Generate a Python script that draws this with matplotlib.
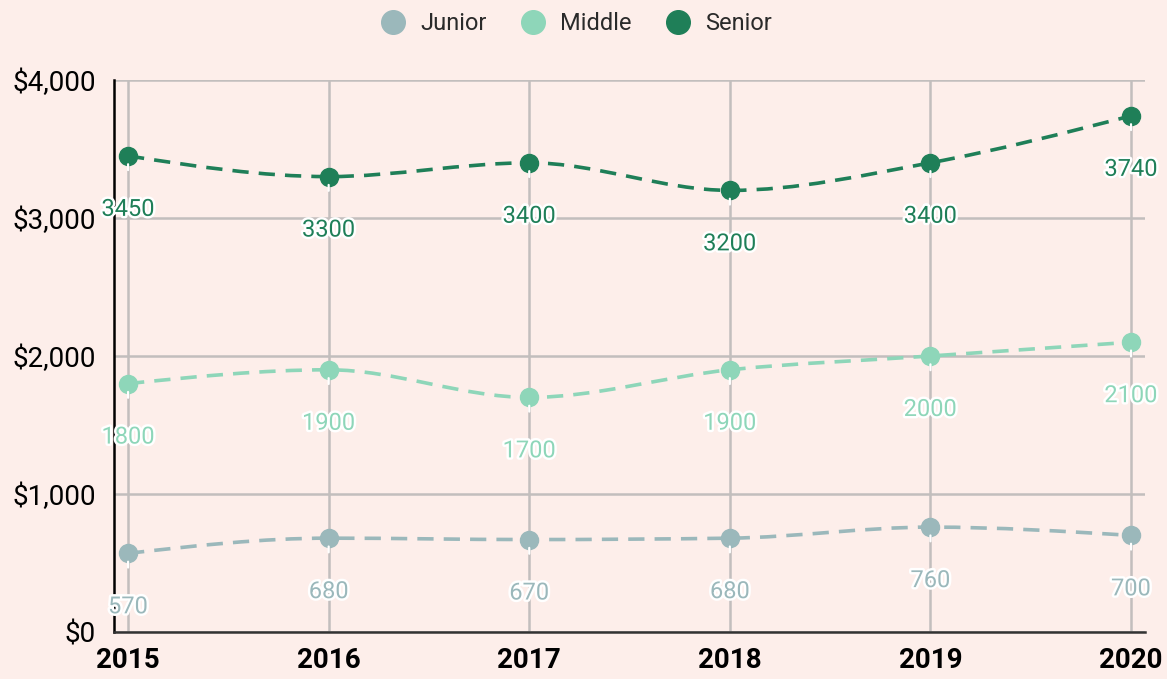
import numpy as np
import matplotlib.pyplot as plt
import matplotlib.patheffects as pe
from matplotlib.path import Path
from matplotlib.patches import PathPatch
from matplotlib.lines import Line2D

plt.rcParams['font.family'] = ['Roboto', 'DejaVu Sans']

years = [2015, 2016, 2017, 2018, 2019, 2020]
junior = [570, 680, 670, 680, 760, 700]
middle = [1800, 1900, 1700, 1900, 2000, 2100]
senior = [3450, 3300, 3400, 3200, 3400, 3740]

names = ['Junior', 'Middle', 'Senior']
colors = ['#9bb8bb', '#8ed6b9', '#1f7f58']
bg = '#fdeeea'


def smooth_path(x, y):
    # monotone cubic (like d3 curveMonotoneX) as bezier segments
    x = np.asarray(x, float)
    y = np.asarray(y, float)
    h = np.diff(x)
    s = np.diff(y) / h
    t = np.zeros(len(x))
    for i in range(1, len(x) - 1):
        p = (s[i-1]*h[i] + s[i]*h[i-1]) / (h[i-1] + h[i])
        t[i] = (np.sign(s[i-1]) + np.sign(s[i])) * min(abs(s[i-1]), abs(s[i]), 0.5*abs(p))
    t[0] = (3*s[0] - t[1]) / 2
    t[-1] = (3*s[-1] - t[-2]) / 2
    verts = [(x[0], y[0])]
    codes = [Path.MOVETO]
    for i in range(len(x) - 1):
        dx = h[i] / 3
        verts += [(x[i]+dx, y[i]+dx*t[i]), (x[i+1]-dx, y[i+1]-dx*t[i+1]), (x[i+1], y[i+1])]
        codes += [Path.CURVE4]*3
    return Path(verts, codes)


fig = plt.figure(figsize=(11.67, 6.79), dpi=100, facecolor=bg)
ax = fig.add_axes([0.0977, 0.0692, 0.8835, 0.813], facecolor=bg)

for vals, c in zip([junior, middle, senior], colors):
    ax.add_patch(PathPatch(smooth_path(years, vals), fill=False, edgecolor=c,
                           lw=2.6, linestyle=(0, (4.5, 2.8)), zorder=3))
    ax.plot(years, vals, 'o', color=c, ms=13, zorder=4)
    for xv, yv in zip(years, vals):
        ax.annotate(str(yv), (xv, yv), xytext=(0, -38.5), textcoords='offset points',
                    ha='center', va='center', fontsize=17, color=c, zorder=5,
                    path_effects=[pe.withStroke(linewidth=3.5, foreground='white')],
                    arrowprops=dict(arrowstyle='-', color='white', lw=1.6,
                                    shrinkA=18, shrinkB=6))

ax.set_xlim(2014.93, 2020.07)
ax.set_ylim(0, 4000)
ax.set_xticks(years)
ax.set_xticklabels([str(y) for y in years], fontsize=20, fontweight='bold')
ax.set_yticks([0, 1000, 2000, 3000, 4000])
ax.set_yticklabels(['$0', '$1,000', '$2,000', '$3,000', '$4,000'], fontsize=20)
ax.tick_params(length=0)
ax.tick_params(axis='y', pad=13)
ax.tick_params(axis='x', pad=11)
ax.grid(True, color='#c2bebd', lw=1.8, zorder=0)
ax.set_axisbelow(True)
for side in ['top', 'right']:
    ax.spines[side].set_visible(False)
ax.spines['left'].set_color('black')
ax.spines['left'].set_linewidth(1.8)
ax.spines['bottom'].set_color('#333333')
ax.spines['bottom'].set_linewidth(1.8)

handles = [Line2D([], [], marker='o', ls='', color=c, ms=17) for c in colors]
leg = fig.legend(handles, names, loc='center', bbox_to_anchor=(0.492, 0.965), ncol=3,
                 frameon=False, fontsize=17, handletextpad=0.45, columnspacing=1.25,
                 handlelength=1.4)
for txt in leg.get_texts():
    txt.set_color('#2a2a2a')

plt.savefig('out.png', dpi=100, facecolor=bg)
